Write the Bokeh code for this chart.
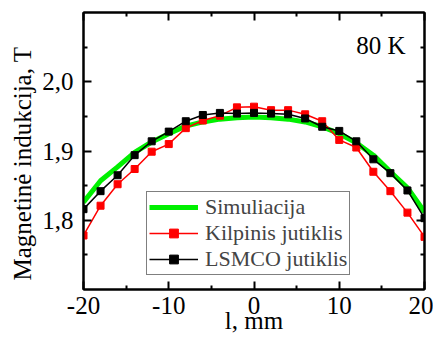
from bokeh.plotting import figure
from bokeh.models import Range1d, FixedTicker, LinearAxis, Label, Legend, LegendItem
from bokeh.embed import file_html
from bokeh.resources import INLINE

pos_mm = [-20, -18, -16, -14, -12, -10, -8, -6, -4, -2, 0, 2, 4, 6, 8, 10, 12, 14, 16, 18, 20]
simuliacija = [1.826, 1.857, 1.877, 1.898, 1.913, 1.925, 1.936, 1.942, 1.946, 1.948, 1.949,
               1.948, 1.946, 1.942, 1.935, 1.925, 1.912, 1.894, 1.870, 1.847, 1.812]
kilpinis = [1.778, 1.821, 1.852, 1.874, 1.899, 1.910, 1.933, 1.944, 1.951, 1.963, 1.964,
            1.959, 1.959, 1.953, 1.943, 1.916, 1.905, 1.870, 1.842, 1.811, 1.776]
lsmco = [1.816, 1.842, 1.865, 1.894, 1.914, 1.928, 1.943, 1.952, 1.955, 1.954, 1.955,
         1.954, 1.953, 1.947, 1.935, 1.929, 1.914, 1.888, 1.868, 1.843, 1.803]

x_major = [-20, -10, 0, 10, 20]
x_minor = [-15, -5, 5, 15]
x_labels = {-20: "-20", -10: "-10", 0: "0", 10: "10", 20: "20"}
y_major = [1.8, 1.9, 2.0]
y_minor = [1.75, 1.85, 1.95, 2.05]
y_labels = {1.8: "1,8", 1.9: "1,9", 2.0: "2,0"}

FONT = "'Liberation Serif'"

p = figure(width=433, height=339, output_backend="svg", toolbar_location=None,
           x_range=Range1d(-20, 20), y_range=Range1d(1.7, 2.1),
           min_border_left=83, min_border_right=9, min_border_top=12, min_border_bottom=50,
           x_axis_label="l, mm",
           y_axis_label="Magnetinė indukcija, T\u00a0\u00a0\u00a0\u00a0")
p.grid.visible = False
p.outline_line_color = "black"
p.outline_line_width = 2

r_sim = p.line(pos_mm, simuliacija, line_color="#00f000", line_width=5)
r_k_line = p.line(pos_mm, kilpinis, line_color="#ff0000", line_width=1.5)
r_k_pts = p.scatter(pos_mm, kilpinis, marker="square", size=7, fill_color="#ff0000", line_color="#ff0000")
r_l_line = p.line(pos_mm, lsmco, line_color="black", line_width=1.5)
r_l_pts = p.scatter(pos_mm, lsmco, marker="square", size=7, fill_color="black", line_color="black")

legend = Legend(items=[
    LegendItem(label="Simuliacija", renderers=[r_sim]),
    LegendItem(label="Kilpinis jutiklis", renderers=[r_k_line, r_k_pts]),
    LegendItem(label="LSMCO jutiklis", renderers=[r_l_line, r_l_pts]),
], location=(63, 14))
legend.label_text_font = FONT
legend.label_text_font_size = "22px"
legend.label_height = 22
legend.glyph_height = 22
legend.glyph_width = 49
legend.label_standoff = 7
legend.spacing = -1
legend.padding = 2
legend.margin = 0
legend.border_line_color = "black"
legend.border_line_width = 1
legend.background_fill_alpha = 1
p.add_layout(legend)

def style_axis(ax, major, minor, show_labels):
    ax.ticker = FixedTicker(ticks=major, minor_ticks=minor)
    ax.axis_line_width = 2
    ax.axis_line_color = "black"
    ax.major_tick_in = 8
    ax.major_tick_out = 0
    ax.minor_tick_in = 4
    ax.minor_tick_out = 0
    ax.major_tick_line_width = 2
    ax.minor_tick_line_width = 2
    ax.major_label_text_font = FONT
    ax.major_label_text_color = "black"
    ax.axis_label_text_font = FONT
    ax.axis_label_text_font_style = "normal"
    ax.axis_label_text_color = "black"
    ax.axis_label_text_font_size = "25px"
    if not show_labels:
        ax.major_label_overrides = {t: "" for t in major}
        ax.major_label_text_font_size = "0px"
        ax.major_label_standoff = 0

xa = p.xaxis[0]
style_axis(xa, x_major, x_minor, True)
xa.major_label_overrides = x_labels
xa.major_label_text_font_size = "25px"
xa.major_label_standoff = 7
xa.axis_label_standoff = -10

ya = p.yaxis[0]
style_axis(ya, y_major, y_minor, True)
ya.major_label_overrides = y_labels
ya.major_label_text_font_size = "25px"
ya.major_label_standoff = 10
ya.axis_label_standoff = 3

top = LinearAxis()
style_axis(top, x_major, x_minor, False)
p.add_layout(top, "above")
right = LinearAxis()
style_axis(right, y_major, y_minor, False)
p.add_layout(right, "right")

p.add_layout(Label(x=17.77, y=2.052, text="80 K", text_font=FONT, text_font_size="25px",
                   text_align="right", text_baseline="alphabetic", text_color="black"))

open("out.html", "w").write(file_html(p, INLINE))
